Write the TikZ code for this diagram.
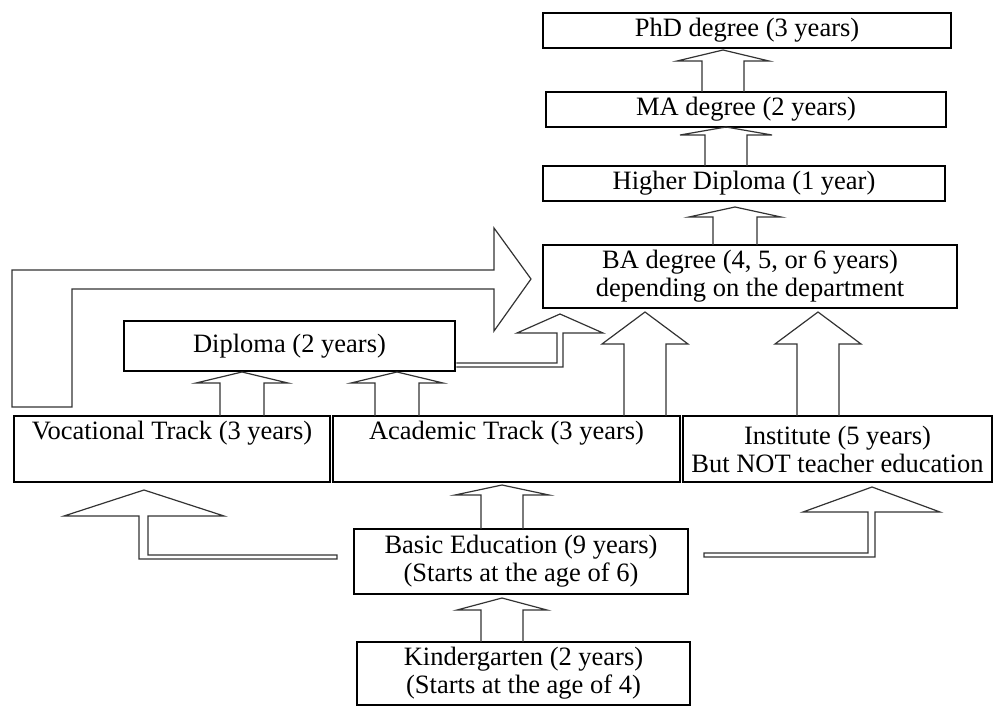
\documentclass[tikz,border=0pt]{standalone}
\usepackage{fontspec}
\setmainfont{Liberation Serif}
\begin{document}
\begin{tikzpicture}[x=0.5pt,y=-0.5pt,
  box/.style={draw=black, line width=1.4pt, inner sep=0pt, align=center,
    font=\fontsize{13.25}{14}\selectfont},
  blk/.style={draw=black!80, line width=0.6pt, line join=miter}]
\useasboundingbox (0,0) rectangle (995,706);
\newcommand\blockup[6]{%
  \draw[blk] ({#1-#6},#4) -- ({#1-#6},#3) -- ({#1-#5},#3) -- (#1,#2) -- ({#1+#5},#3) -- ({#1+#6},#3) -- ({#1+#6},#4);}
% boxes
\node[box, minimum width=204pt, minimum height=17.5pt] (phd) at (747,30.5) {PhD degree (3 years)};
\node[box, minimum width=200pt, minimum height=17.5pt] (ma) at (746,109.5) {MA degree (2 years)};
\node[box, minimum width=201pt, minimum height=17.5pt] (hd) at (744,183.5) {Higher Diploma (1 year)};
\node[box, minimum width=207pt, minimum height=31.5pt] (ba) at (750,276.5) {BA degree (4, 5, or 6 years)\\depending on the department};
\node[box, minimum width=165.5pt, minimum height=25pt] (dip) at (289.5,346) {Diploma (2 years)};
\node[box, minimum width=158pt, minimum height=33pt] (voc) at (172,449) {Vocational Track (3 years)\\\strut};
\node[box, minimum width=173.5pt, minimum height=33pt] (aca) at (506.5,449) {Academic Track (3 years)\\\strut};
\node[box, minimum width=154.5pt, minimum height=33pt] (ins) at (837.5,449) {Institute (5 years)\\But NOT teacher education};
\node[box, minimum width=167pt, minimum height=32.5pt] (bas) at (521,561.5) {Basic Education (9 years)\\(Starts at the age of 6)};
\node[box, minimum width=166.5pt, minimum height=31.5pt] (kin) at (523.5,673.5) {Kindergarten (2 years)\\(Starts at the age of 4)};
% straight block arrows
\blockup{723}{50}{61}{92}{46}{21}
\blockup{726}{127}{135}{166}{46}{21}
\blockup{735}{207}{217}{245}{46}{22}
\blockup{645}{312}{344}{416}{43}{21}
\blockup{818}{312}{344}{416}{43}{21}
\blockup{242}{372}{383}{416}{46}{22}
\blockup{397}{372}{383}{416}{46}{22}
\blockup{502}{485}{495}{529}{47}{21}
\blockup{502}{598}{610}{642}{45}{21}
% big L arrow from vocational track to BA
\draw[blk] (12,407) -- (12,270) -- (494,270) -- (494,228) -- (531,279) -- (494,331) -- (494,289) -- (72,289) -- (72,407) -- cycle;
% diploma to BA
\draw[blk] (dip.east |- 0,363) -- (557,363) -- (557,333) -- (517,333) -- (560,314) -- (603,333) -- (563,333) -- (563,367) -- (dip.east |- 0,367);
% basic to vocational
\draw[blk] (337,555) -- (148,555) -- (148,516) -- (224,516) -- (144,490) -- (64,516) -- (139,516) -- (139,559) -- (337,559) -- cycle;
% basic to institute
\draw[blk] (704,553) -- (868,553) -- (868,512) -- (803,512) -- (872,487) -- (940,512) -- (875,512) -- (875,557) -- (704,557) -- cycle;
\end{tikzpicture}
\end{document}
